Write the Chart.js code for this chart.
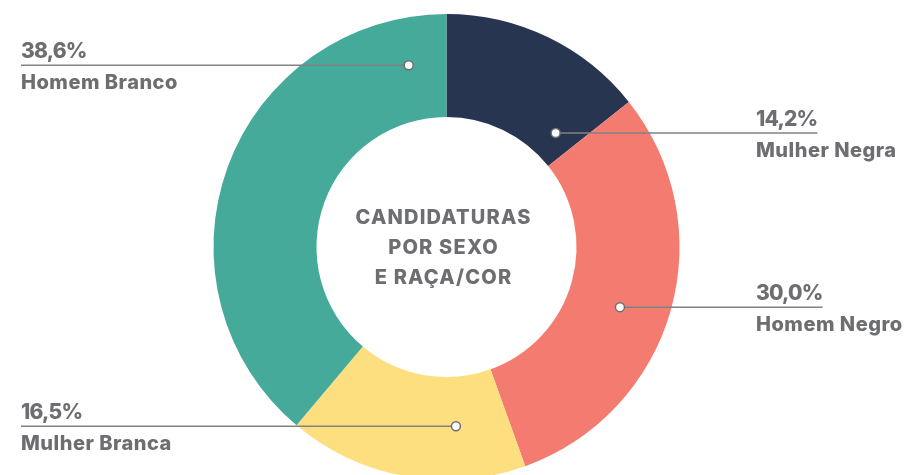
<!DOCTYPE html>
<html>
<head>
<meta charset="utf-8">
<script src="https://cdn.jsdelivr.net/npm/chart.js@4.4.1/dist/chart.umd.min.js"></script>
<style>
  html, body { margin: 0; padding: 0; overflow: hidden; background: #fff; }
  canvas { display: block; }
</style>
</head>
<body>
<canvas id="chart" width="906" height="480"></canvas>
<script>
// data
const categories = ['Mulher Negra', 'Homem Negro', 'Mulher Branca', 'Homem Branco'];
const shares = [14.2, 30.0, 16.5, 38.6];
const centerTitle = ['CANDIDATURAS', 'POR SEXO', 'E RAÇA/COR'];

const sliceColors = ['#283551', '#F47B70', '#FEDF80', '#46AA9A'];
const textGray = '#6D6E71';
const lineGray = '#808285';
const FONT = 'Inter, "Open Sans", sans-serif';

// where each callout dot sits inside its slice (fraction along the arc, fraction across the ring)
const markerAlong = [0.85, 0.53, 0.28, 0.916];
const markerAcross = [0.27, 0.52, 0.48, 0.54];
const labelSide = ['right', 'right', 'left', 'left'];

const LEFT_TEXT_X = 21;
const RIGHT_TEXT_X = 756;

function pctText(v) {
    return v.toFixed(1).replace('.', ',') + '%';
}

const calloutPlugin = {
    id: 'callouts',
    afterDatasetsDraw(chart) {
        const ctx = chart.ctx;
        const arcs = chart.getDatasetMeta(0).data;
        ctx.save();

        // title in the hole
        const c = arcs[0];
        ctx.fillStyle = textGray;
        ctx.font = '800 20px ' + FONT;
        ctx.letterSpacing = '1.2px';
        ctx.textAlign = 'center';
        ctx.textBaseline = 'alphabetic';
        centerTitle.forEach((t, i) => ctx.fillText(t, c.x - 3, c.y - 23 + i * 30));

        ctx.textAlign = 'left';
        arcs.forEach((arc, i) => {
            const p = arc.getProps(['x', 'y', 'startAngle', 'endAngle', 'innerRadius', 'outerRadius'], true);
            const a = p.startAngle + (p.endAngle - p.startAngle) * markerAlong[i];
            const r = p.innerRadius + (p.outerRadius - p.innerRadius) * markerAcross[i];
            const px = p.x + Math.cos(a) * r;
            const py = p.y + Math.sin(a) * r;

            const pct = pctText(shares[i]);
            ctx.font = '800 21px ' + FONT;
            ctx.letterSpacing = '-0.8px';
            const pctWidth = ctx.measureText(pct).width;

            let textX, x1, x2;
            if (labelSide[i] === 'left') {
                textX = LEFT_TEXT_X;
                x1 = LEFT_TEXT_X;
                x2 = px;
            } else {
                textX = RIGHT_TEXT_X;
                x1 = px;
                x2 = RIGHT_TEXT_X + pctWidth;
            }

            // leader line
            ctx.strokeStyle = lineGray;
            ctx.lineWidth = 1.5;
            ctx.beginPath();
            ctx.moveTo(x1, py);
            ctx.lineTo(x2, py);
            ctx.stroke();

            // dot
            ctx.fillStyle = '#fff';
            ctx.strokeStyle = textGray;
            ctx.beginPath();
            ctx.arc(px, py, 4.5, 0, Math.PI * 2);
            ctx.fill();
            ctx.stroke();

            // texts
            ctx.fillStyle = textGray;
            ctx.fillText(pct, textX, py - 7.5);
            ctx.font = '800 20px ' + FONT;
            ctx.letterSpacing = '0.5px';
            ctx.fillText(categories[i], textX, py + 24);
        });

        ctx.restore();
    }
};

function draw() {
    const ctx = document.getElementById('chart').getContext('2d');
    new Chart(ctx, {
        type: 'doughnut',
        data: {
            labels: categories,
            datasets: [{
                data: shares,
                backgroundColor: sliceColors,
                borderWidth: 0
            }]
        },
        options: {
            responsive: false,
            animation: false,
            cutout: '55.8%',
            layout: { padding: { top: 14, left: 0, right: 13, bottom: 0 } },
            plugins: {
                legend: { display: false },
                tooltip: { enabled: false }
            }
        },
        plugins: [calloutPlugin]
    });
}

document.fonts.load('800 20px Inter').then(draw, draw);
</script>
</body>
</html>
